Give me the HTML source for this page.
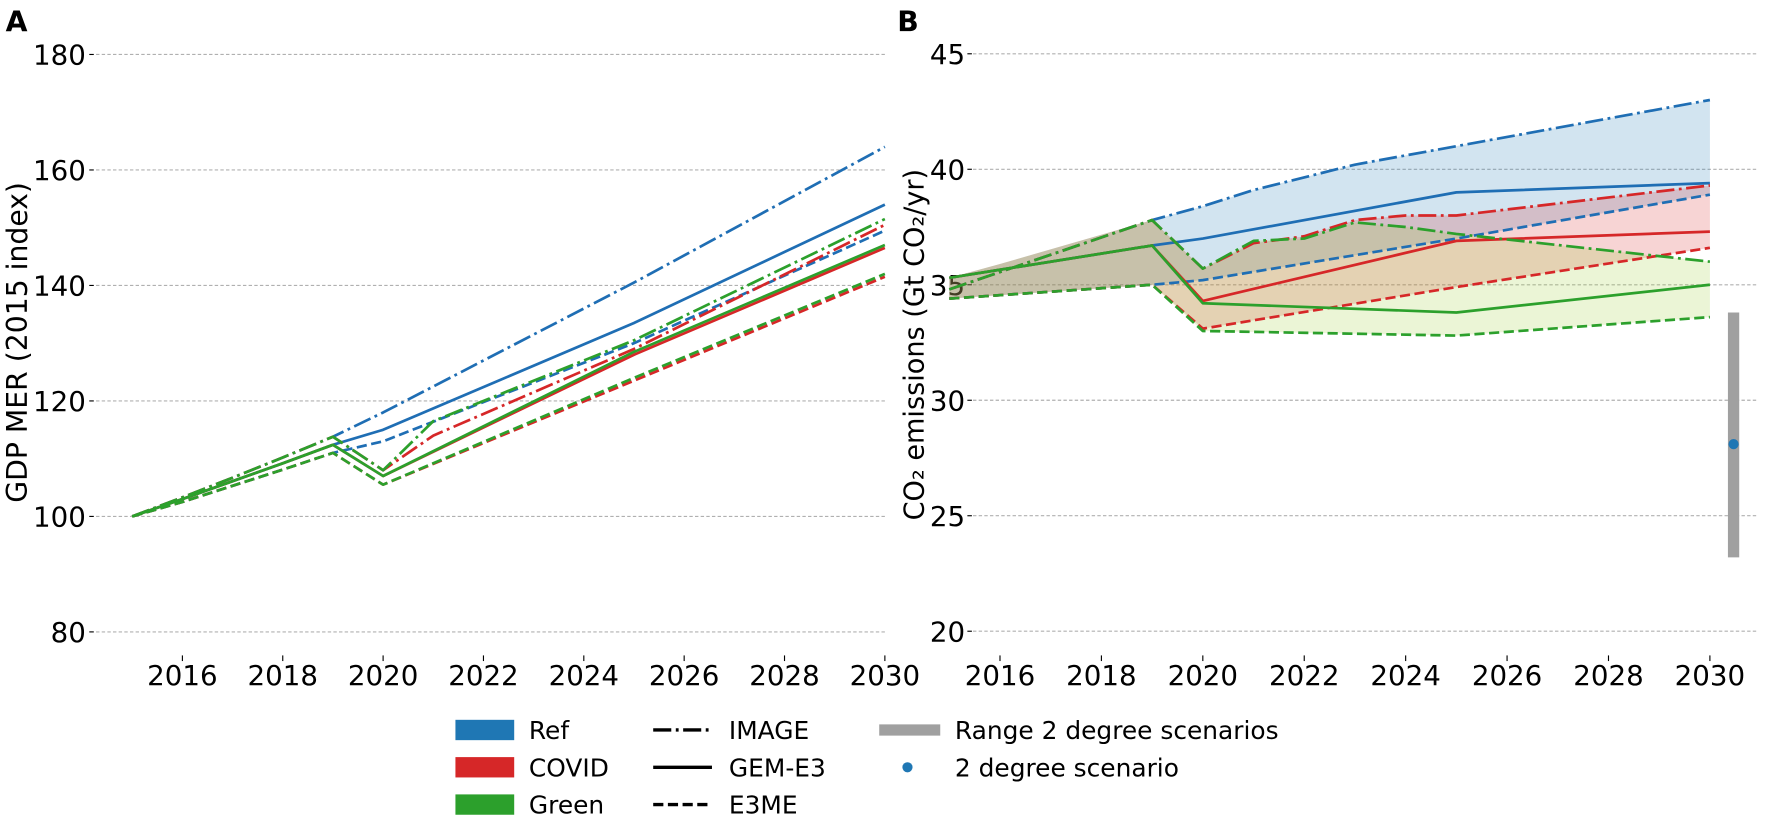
<!DOCTYPE html>
<html><head><meta charset="utf-8"><style>
html,body{margin:0;padding:0;background:#fff;}
svg{display:block;font-family:"DejaVu Sans","Liberation Sans",sans-serif;}
</style></head><body>
<svg id="s" width="1772" height="817" viewBox="0 0 1568 723" preserveAspectRatio="none" xmlns="http://www.w3.org/2000/svg">
<text x="5" y="28" font-size="25" font-weight="bold">A</text>
<text x="794" y="28" font-size="25" font-weight="bold">B</text>
<text transform="translate(24,303) rotate(-90)" font-size="25" text-anchor="middle">GDP MER (2015 index)</text>
<text transform="translate(817,305) rotate(-90)" font-size="24" text-anchor="middle">CO₂ emissions (Gt CO₂/yr)</text>
<g id="g"></g>
<rect x="403" y="637" width="52" height="18" fill="#1f77b4"/>
<rect x="403" y="670" width="52" height="18" fill="#d62728"/>
<rect x="403" y="703" width="52" height="18" fill="#2ca02c"/>
<text x="468" y="654" font-size="22">Ref</text>
<text x="468" y="687" font-size="22">COVID</text>
<text x="468" y="720" font-size="22">Green</text>
<line x1="578" y1="646" x2="630" y2="646" stroke="#000" stroke-width="3" stroke-dasharray="16,4,2.5,4"/>
<line x1="578" y1="679" x2="630" y2="679" stroke="#000" stroke-width="3"/>
<line x1="578" y1="712" x2="630" y2="712" stroke="#000" stroke-width="3" stroke-dasharray="9,4"/>
<text x="645" y="654" font-size="22">IMAGE</text>
<text x="645" y="687" font-size="22">GEM-E3</text>
<text x="645" y="720" font-size="22">E3ME</text>
<line x1="778" y1="646" x2="832" y2="646" stroke="#a0a0a0" stroke-width="10"/>
<circle cx="803" cy="679" r="4.5" fill="#1f77b4"/>
<text x="845" y="654" font-size="22">Range 2 degree scenarios</text>
<text x="845" y="687" font-size="22">2 degree scenario</text>
</svg>
<script>
const g=document.getElementById('g');let h='';
const B='#1f6eb4',R='#d62728',G='#2ca02c';
const DD='16,4,2.5,4',DS='9,4';
const FS=24.5;
const ax=y=>117+(y-2015)*44.4, ay=v=>457-(v-100)*5.11;
[80,100,120,140,160,180].forEach(v=>{const y=ay(v);h+=`<line x1="85" x2="785" y1="${y}" y2="${y}" stroke="#b0b0b0" stroke-dasharray="3,2" stroke-width="1"/><line x1="79" x2="83" y1="${y}" y2="${y}" stroke="#000"/><text x="76" y="${y+9}" font-size="${FS}" text-anchor="end">${v}</text>`});
for(let yr=2016;yr<=2030;yr+=2){const x=ax(yr);h+=`<line x1="${x}" x2="${x}" y1="580" y2="585" stroke="#000"/><text x="${x}" y="606" font-size="${FS}" text-anchor="middle">${yr}</text>`}
const bx=y=>840+(y-2015)*44.87, by=v=>252-(v-35)*20.44;
[20,25,30,35,40,45].forEach(v=>{const y=by(v);h+=`<line x1="861" x2="1555" y1="${y}" y2="${y}" stroke="#b0b0b0" stroke-dasharray="3,2" stroke-width="1"/><line x1="856" x2="860" y1="${y}" y2="${y}" stroke="#000"/><text x="854" y="${y+9}" font-size="${FS}" text-anchor="end">${v}</text>`});
for(let yr=2016;yr<=2030;yr+=2){const x=bx(yr);h+=`<line x1="${x}" x2="${x}" y1="580" y2="585" stroke="#000"/><text x="${x}" y="606" font-size="${FS}" text-anchor="middle">${yr}</text>`}
function pl(d,fx,fy,c,da){return `<polyline fill="none" stroke="${c}" stroke-width="2.4" ${da?`stroke-dasharray="${da}"`:''} stroke-linejoin="round" points="${d.map(p=>fx(p[0])+','+fy(p[1])).join(' ')}"/>`}
function poly(up,lo,fx,fy,c){const pts=up.concat(lo.slice().reverse());return `<polygon fill="${c}" fill-opacity="0.2" stroke="none" points="${pts.map(p=>fx(p[0])+','+fy(p[1])).join(' ')}"/>`}
const preI=[[2015,100],[2016,103.3],[2017,106.7],[2018,110.2],[2019,113.8]];
const preG=[[2015,100],[2016,103],[2017,106.1],[2018,109.2],[2019,112.4]];
const preE=[[2015,100],[2016,102.5],[2017,105.3],[2018,108.1],[2019,111]];
const A=[
[B,DD,preI.concat([[2020,118],[2025,140.5],[2030,164]])],
[B,'',preG.concat([[2020,115],[2025,133.5],[2030,154]])],
[B,DS,preE.concat([[2020,113],[2025,130],[2030,149.5]])],
[R,DD,preI.concat([[2020,108],[2021,114],[2025,129],[2030,150.5]])],
[R,'',preG.concat([[2020,107],[2025,128],[2030,146.5]])],
[R,DS,preE.concat([[2020,105.5],[2025,123.5],[2030,141.5]])],
[G,DD,preI.concat([[2020,108],[2021,116.5],[2025,130.5],[2030,151.5]])],
[G,'',preG.concat([[2020,107],[2025,128.5],[2030,147]])],
[G,DS,preE.concat([[2020,105.5],[2025,124],[2030,142]])]];
A.forEach(s=>h+=pl(s[2],ax,ay,s[0],s[1]));
const pI=[[2015,34.8],[2019,37.8]],pG=[[2015,35.3],[2019,36.7]],pE=[[2015,34.4],[2019,35.0]];
const rI=pI.concat([[2020,38.4],[2021,39.1],[2023,40.2],[2025,41.0],[2030,43.0]]);
const rG=pG.concat([[2020,37.0],[2025,39.0],[2030,39.4]]);
const rE=pE.concat([[2020,35.2],[2025,37.0],[2030,38.9]]);
const cI=pI.concat([[2020,35.7],[2021,36.8],[2022,37.1],[2023,37.8],[2024,38.0],[2025,38.0],[2030,39.3]]);
const cG=pG.concat([[2020,34.3],[2025,36.9],[2030,37.3]]);
const cE=pE.concat([[2020,33.1],[2025,34.9],[2030,36.6]]);
const gI=pI.concat([[2020,35.7],[2021,36.9],[2022,37.0],[2023,37.7],[2024,37.5],[2025,37.2],[2030,36.0]]);
const gG=pG.concat([[2020,34.2],[2025,33.8],[2030,35.0]]);
const gE=pE.concat([[2020,33.0],[2025,32.8],[2030,33.6]]);
const cUp=[[2015,35.3],[2016,35.9],[2019,37.8],[2020,35.7],[2021,36.8],[2022,37.1],[2023,37.8],[2024,38.0],[2025,38.0],[2030,39.3]];
const gUp=[[2015,35.3],[2016,35.9],[2019,37.8],[2020,35.7],[2021,36.9],[2022,37.0],[2023,37.7],[2024,37.5],[2025,37.2],[2030,36.0]];
const rUp=[[2015,35.3],[2016,35.9]].concat(rI.slice(1));
h+=poly(rUp,rE,bx,by,'#1f77b4');
h+=poly(cUp,cE,bx,by,'#d62728');
h+=poly(gUp,gE,bx,by,'#9acd32');
[[B,DD,rI],[B,'',rG],[B,DS,rE],[R,DD,cI],[R,'',cG],[R,DS,cE],[G,DD,gI],[G,'',gG],[G,DS,gE]].forEach(s=>h+=pl(s[2],bx,by,s[0],s[1]));
h+=`<line x1="1534" x2="1534" y1="${by(33.8)}" y2="${by(23.2)}" stroke="#a0a0a0" stroke-width="10"/><circle cx="1534" cy="${by(28.1)}" r="4.5" fill="#1f77b4"/>`;
g.innerHTML=h;
</script>
</body></html>
